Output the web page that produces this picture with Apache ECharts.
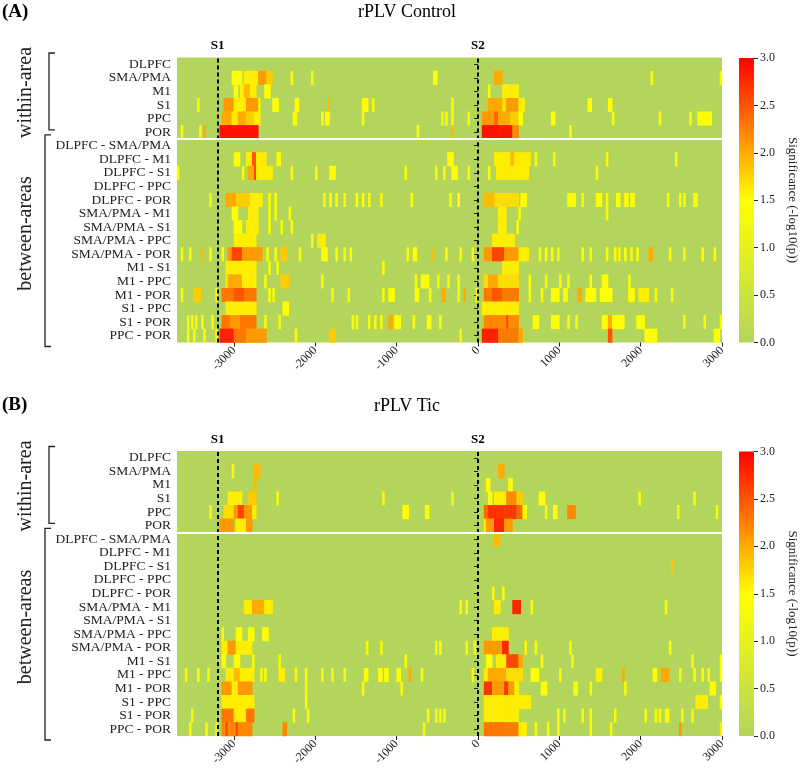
<!DOCTYPE html>
<html>
<head>
<meta charset="utf-8">
<script src="https://cdn.jsdelivr.net/npm/echarts@6/dist/echarts.min.js"></script>
<style>
  html, body { margin: 0; padding: 0; background: #fff; }
  #chart { width: 800px; height: 772px; }
</style>
</head>
<body>
<div id="chart"></div>
<script>
  // rows, top to bottom
  const areaLabels = [
    'DLPFC', 'SMA/PMA', 'M1', 'S1', 'PPC', 'POR',
    'DLPFC - SMA/PMA', 'DLPFC - M1', 'DLPFC - S1', 'DLPFC - PPC', 'DLPFC - POR',
    'SMA/PMA - M1', 'SMA/PMA - S1', 'SMA/PMA - PPC', 'SMA/PMA - POR',
    'M1 - S1', 'M1 - PPC', 'M1 - POR', 'S1 - PPC', 'S1 - POR', 'PPC - POR'
  ]
  const withinCount = 6
  const timeStart = -3700
  const timeEnd = 3000
  const binMs = 25
  const timeTicks = [-3000, -2000, -1000, 0, 1000, 2000, 3000]
  const eventTimes = [-3200, 0]
  const eventNames = ['S1', 'S2']

  // significant stretches per row: [from ms, to ms, -log10(p)]
  const controlRuns = [
    [],
    [[-3040,-2920,1.5],[-2880,-2720,1.6],[-2720,-2620,2.1],[-2620,-2540,1.8],[-2310,-2285,1.4],[-2055,-2030,1.4],[-560,-520,1.5],[190,280,2.0],[2120,2145,1.4],[2975,3000,1.4]],
    [[-3000,-2960,1.5],[-2930,-2880,1.6],[-2880,-2800,1.9],[-2800,-2740,1.6],[-2640,-2560,1.5],[110,135,1.4],[280,500,1.6]],
    [[-3450,-3425,1.4],[-3130,-3000,2.1],[-3000,-2860,1.6],[-2860,-2720,2.1],[-2720,-2680,1.6],[-2540,-2470,1.5],[-2260,-2220,1.5],[-1870,-1845,1.9],[-1440,-1360,1.5],[-1310,-1285,1.4],[-330,-305,1.5],[110,280,2.0],[280,340,1.7],[340,490,2.1],[490,570,1.6],[1330,1380,1.5],[1590,1635,1.5]],
    [[-3170,-3030,2.0],[-3030,-2950,1.6],[-2950,-2870,2.0],[-2870,-2770,1.8],[-2770,-2680,1.6],[-2290,-2265,1.4],[-2250,-2225,1.4],[-1930,-1905,1.5],[-1880,-1840,1.5],[-1440,-1415,1.4],[-455,-430,1.4],[-415,-390,1.4],[-330,-305,1.4],[-130,-105,1.4],[40,200,2.1],[200,250,2.4],[250,400,2.0],[400,490,1.8],[490,530,1.5],[880,940,1.5],[1635,1660,1.4],[2210,2235,1.4],[2580,2605,1.4],[2680,2870,1.5]],
    [[-3655,-3630,1.4],[-3445,-3420,1.4],[-3385,-3360,2.0],[-3190,-2700,2.9],[-750,-725,1.4],[-340,-315,1.9],[30,410,2.9],[410,490,2.2],[1120,1145,1.4]],
    [],
    [[-3000,-2930,1.5],[-2855,-2790,1.6],[-2790,-2745,2.5],[-2745,-2600,1.6],[-2485,-2430,1.5],[-375,-315,1.5],[200,380,1.6],[380,450,1.9],[450,630,1.6],[690,715,1.5],[915,940,1.4],[1575,1600,1.4],[2415,2440,1.4]],
    [[-3700,-3675,1.4],[-2915,-2890,1.4],[-2830,-2755,2.0],[-2755,-2735,2.6],[-2735,-2545,1.6],[-2300,-2275,1.4],[-2015,-1990,1.4],[-1830,-1770,1.5],[-905,-880,1.4],[-540,-515,1.4],[-425,-400,1.4],[-330,-250,1.5],[-130,-105,1.4],[120,145,1.4],[220,610,1.6],[1430,1455,1.4]],
    [],
    [[-3310,-3285,1.3],[-3110,-2990,2.0],[-2990,-2810,1.8],[-2810,-2650,1.6],[-2590,-2565,1.5],[-2500,-2475,1.5],[-1910,-1885,1.4],[-1830,-1805,1.5],[-1770,-1725,1.5],[-1665,-1640,1.5],[-1500,-1475,1.5],[-1440,-1415,1.5],[-1360,-1335,1.4],[-1215,-1190,1.4],[-845,-805,1.5],[-720,-700,1.4],[-355,-330,1.5],[-270,-230,1.5],[75,200,1.9],[200,490,1.7],[510,590,1.5],[1100,1185,1.5],[1265,1290,1.4],[1430,1515,1.5],[1555,1580,1.4],[1700,1740,1.5],[1780,1830,1.5],[1860,1920,1.5],[2310,2335,1.4],[2455,2480,1.4],[2515,2540,1.4],[2640,2700,1.5]],
    [[-3040,-2955,1.5],[-2835,-2710,1.6],[-2590,-2565,1.4],[-2500,-2475,1.4],[-2340,-2315,1.4],[240,345,1.6],[490,515,1.4],[1555,1580,1.3]],
    [[-3000,-2920,1.5],[-2855,-2710,1.6],[-2590,-2565,1.4],[-2425,-2400,1.4],[-2310,-2285,1.4],[240,345,1.6],[460,500,1.5]],
    [[-3015,-2730,1.6],[-2055,-2030,1.4],[-1980,-1880,1.6],[160,450,1.6]],
    [[-3655,-3630,1.4],[-3570,-3545,1.4],[-3405,-3380,1.9],[-3305,-3280,1.4],[-3155,-3130,1.5],[-3080,-3040,2.1],[-3040,-2915,2.6],[-2915,-2670,2.1],[-2610,-2585,1.5],[-2500,-2475,1.5],[-2445,-2350,1.8],[-2200,-2175,1.4],[-1930,-1870,1.5],[-1770,-1745,1.4],[-1665,-1640,1.4],[-1585,-1560,1.4],[-885,-860,1.4],[-805,-765,1.5],[-580,-555,1.9],[-420,-380,1.5],[-230,-205,1.4],[-85,-60,1.4],[75,160,2.1],[160,305,2.6],[305,490,2.1],[490,610,1.6],[735,760,1.4],[815,840,1.5],[880,905,1.5],[955,980,1.4],[1265,1290,1.5],[1370,1395,1.4],[1555,1580,1.4],[1655,1680,1.5],[1720,1745,1.4],[1780,1805,1.5],[1860,1885,1.4],[1945,1970,1.4],[2085,2135,2.0],[2335,2360,1.4],[2520,2545,1.4],[2745,2770,1.5],[2880,2905,1.5]],
    [[-3110,-2730,1.6],[-2590,-2565,1.4],[-2485,-2460,1.4],[-1190,-1165,1.4],[285,490,1.6]],
    [[-3110,-3080,1.6],[-3080,-2915,2.0],[-2915,-2730,1.6],[-2630,-2605,1.4],[-2445,-2335,1.8],[-1930,-1905,1.5],[-785,-760,1.4],[-720,-620,1.5],[-515,-490,1.4],[-375,-350,1.4],[-270,-245,1.4],[75,120,1.7],[120,240,2.0],[240,490,1.7],[610,635,1.5],[815,840,1.4],[1000,1025,1.4],[1100,1125,1.4],[1370,1395,1.5],[1515,1595,1.5],[1840,1865,1.4]],
    [[-3655,-3630,1.4],[-3510,-3405,1.8],[-3245,-3220,1.4],[-3155,-3000,2.3],[-3000,-2880,2.5],[-2880,-2730,2.3],[-2590,-2565,1.5],[-2535,-2510,1.4],[-1810,-1785,1.4],[-1605,-1580,1.4],[-1175,-1150,1.4],[-1110,-1030,1.5],[-785,-740,1.5],[-600,-575,1.4],[-455,-415,2.0],[-250,-225,1.4],[-190,-150,2.0],[-25,0,1.4],[75,160,2.3],[160,300,2.5],[300,490,2.3],[610,635,1.4],[775,800,1.4],[900,980,1.5],[1040,1100,1.5],[1225,1265,2.0],[1310,1430,1.5],[1490,1635,1.5],[1840,1920,1.5],[1965,2085,1.6],[2170,2195,1.4],[2375,2400,1.4]],
    [[-3120,-2730,1.6],[-2405,-2340,1.5],[50,490,1.6]],
    [[-3590,-3565,1.4],[-3545,-3520,1.4],[-3490,-3465,1.4],[-3410,-3385,1.4],[-3285,-3260,1.4],[-3155,-3050,2.3],[-3050,-2940,2.1],[-2940,-2730,2.3],[-2630,-2605,1.4],[-2465,-2440,1.4],[-1560,-1535,1.4],[-1500,-1475,1.4],[-1360,-1335,1.4],[-1290,-1265,1.4],[-1220,-1195,1.4],[-1115,-1070,2.0],[-1030,-950,1.5],[-805,-780,1.4],[-640,-580,1.5],[-495,-455,1.5],[75,340,2.2],[340,370,2.6],[370,490,2.2],[670,750,1.5],[900,1000,1.5],[1080,1105,1.4],[1185,1210,1.4],[1515,1600,1.5],[1600,1640,2.0],[1640,1800,1.5],[1945,2045,1.5],[2520,2545,1.4],[2765,2790,1.4],[2965,2990,1.4]],
    [[-3590,-3565,1.4],[-3510,-3485,1.4],[-3385,-3360,1.4],[-3245,-3220,1.4],[-3175,-3000,2.8],[-3000,-2860,2.3],[-2860,-2600,2.1],[-2255,-2230,1.4],[-1830,-1770,1.8],[-230,-205,1.4],[30,250,2.8],[250,490,2.3],[490,530,2.0],[1590,1640,2.5],[2040,2200,1.5],[2900,2975,1.5]]
  ]

  const ticRuns = [
    [],
    [[-3045,-3020,1.5],[-2770,-2680,1.9],[230,315,2.0]],
    [[-2750,-2725,1.9],[90,150,1.5],[370,415,1.5]],
    [[-3090,-2915,1.6],[-2840,-2730,1.8],[-2485,-2460,1.4],[-1180,-1155,1.3],[-345,-320,1.3],[120,160,1.5],[200,345,1.6],[345,470,2.2],[470,550,1.8],[735,810,1.5],[1965,1990,1.4],[2630,2655,1.4]],
    [[-3315,-3290,1.4],[-3130,-3020,1.7],[-3020,-2950,2.1],[-2950,-2895,2.6],[-2895,-2790,2.1],[-2790,-2730,1.6],[-940,-865,1.5],[-670,-600,1.5],[55,120,2.4],[120,470,2.7],[470,530,2.4],[530,590,1.5],[815,840,1.4],[920,970,1.5],[1100,1185,2.2],[2435,2460,1.4],[2925,2950,1.4]],
    [[-3190,-3020,2.1],[-2980,-2860,1.6],[-2860,-2790,2.1],[55,100,1.6],[100,185,2.1],[185,305,2.8],[305,425,2.1]],
    [[200,260,1.9]],
    [],
    [[2370,2395,1.8]],
    [],
    [[160,185,1.4],[285,310,1.5]],
    [[-2875,-2795,1.6],[-2795,-2630,2.0],[-2630,-2545,1.6],[-230,-205,1.5],[-150,-125,1.5],[200,260,1.6],[425,510,2.8],[650,675,1.4],[2290,2315,1.4]],
    [],
    [[-3160,-3135,1.4],[-2995,-2915,1.5],[-2835,-2770,1.5],[-2650,-2590,1.5],[160,365,1.6]],
    [[-3160,-3080,1.6],[-3080,-2975,2.1],[-2975,-2790,1.6],[-1380,-1355,1.4],[-1215,-1190,1.4],[-540,-515,1.4],[-495,-470,1.4],[-170,-145,1.4],[-65,-40,1.4],[75,300,2.1],[300,365,2.8],[570,595,1.4],[690,715,1.4],[1120,1145,1.4],[2335,2360,1.5]],
    [[-3160,-3120,1.5],[-3000,-2935,1.5],[-2795,-2770,1.4],[-2465,-2440,1.4],[-905,-880,1.4],[100,160,1.5],[220,345,1.6],[345,490,2.6],[490,550,2.0],[775,800,1.4],[1145,1170,1.4],[2620,2645,1.4],[2975,3000,1.5]],
    [[-3615,-3590,1.4],[-3450,-3425,1.4],[-3325,-3300,1.4],[-3120,-3000,1.6],[-3000,-2930,1.9],[-2930,-2750,1.6],[-2690,-2665,1.4],[-2630,-2605,1.4],[-2465,-2380,1.6],[-2260,-2235,1.4],[-2135,-2110,1.4],[-1930,-1905,1.4],[-1810,-1785,1.4],[-1665,-1640,1.4],[-1400,-1355,1.5],[-1235,-1190,1.5],[-1150,-1110,1.5],[-1010,-965,1.5],[-865,-825,2.0],[-700,-675,1.4],[-85,-60,1.4],[75,120,1.6],[120,345,2.0],[345,550,1.7],[650,735,1.5],[1000,1025,1.4],[1430,1515,1.6],[1760,1800,2.0],[2150,2190,1.5],[2250,2335,2.0],[2455,2480,1.4],[2640,2665,1.4],[2745,2770,1.4],[2825,2850,1.4],[2975,3000,1.5]],
    [[-3160,-3035,2.1],[-3035,-2950,1.6],[-2950,-2790,2.1],[-2135,-2110,1.4],[-1440,-1415,1.4],[-970,-945,1.4],[75,160,2.7],[160,325,2.1],[325,365,2.7],[365,450,2.1],[450,490,1.6],[775,835,1.5],[1165,1225,1.5],[1365,1390,1.4],[1800,1825,1.4],[2845,2905,1.5]],
    [[-3160,-2765,1.6],[-2135,-2110,1.4],[55,650,1.6],[2660,2805,1.6],[2965,2990,1.5]],
    [[-3530,-3505,1.4],[-3155,-3010,2.3],[-3010,-2870,1.6],[-2870,-2765,2.3],[-2280,-2255,1.4],[-2115,-2090,1.4],[-640,-615,1.4],[-540,-515,1.4],[-495,-470,1.4],[-435,-410,1.4],[75,490,1.6],[960,985,1.4],[1045,1070,1.4],[1270,1295,1.4],[1370,1395,1.4],[1665,1690,1.4],[2030,2055,1.4],[2170,2195,1.4],[2210,2235,1.4],[2280,2335,1.4],[2495,2520,1.4],[2615,2640,1.4]],
    [[-3570,-3545,1.4],[-3360,-3335,1.4],[-3245,-3220,1.4],[-3155,-3100,2.2],[-3100,-3075,2.6],[-3075,-2990,2.2],[-2990,-2965,2.6],[-2965,-2790,2.2],[-2410,-2355,2.2],[-690,-665,1.4],[75,490,2.3],[490,590,1.6],[690,715,1.4],[850,875,1.4],[970,995,1.4],[1360,1385,1.4],[1610,1635,1.4],[2460,2485,2.1],[2975,3000,1.6]]
  ]

  const nRows = areaLabels.length
  const nBins = (timeEnd - timeStart) / binMs
  const bins = []
  for (let k = 0; k < nBins; k++) bins.push(String(timeStart + k * binMs))

  // only significant bins become cells, the rest is the grid background (value 0)
  function buildCells(runs) {
    const cells = []
    runs.forEach((row, r) => {
      const vals = new Array(nBins).fill(0)
      row.forEach(([from, to, v]) => {
        for (let k = 0; k < nBins; k++) {
          const t = timeStart + k * binMs
          if (t >= from && t < to) vals[k] = v
        }
      })
      const y = nRows - 1 - r
      vals.forEach((v, k) => { if (v > 0) cells.push([k, y, v]) })
    })
    return cells
  }

  const serif = 'Liberation Serif'
  const green = '#b3d55b'
  const panelTops = [57.5, 451]
  const panelHeight = 285
  const plotLeft = 177
  const plotWidth = 545

  const grids = []
  const xAxes = []
  const yAxes = []
  const series = []

  panelTops.forEach((top) => {
    grids.push({ left: plotLeft, top: top, width: plotWidth, height: panelHeight, show: true, backgroundColor: green, borderWidth: 0 })
  })
  panelTops.forEach((top) => {
    grids.push({ left: 739, top: top + 0.5, width: 15, height: panelHeight - 0.5 })
  })

  panelTops.forEach((top, p) => {
    xAxes.push({ type: 'category', gridIndex: p, data: bins, show: false })
    xAxes.push({
      type: 'value', gridIndex: p, min: timeStart, max: timeEnd, position: 'bottom',
      axisLine: { show: false },
      splitLine: { show: false },
      axisTick: { show: true, length: 4, customValues: timeTicks, lineStyle: { color: '#222' } },
      axisLabel: { customValues: timeTicks, rotate: 45, fontSize: 12, fontFamily: serif, color: '#222', margin: 6, formatter: v => String(v) }
    })
    yAxes.push({
      type: 'category', gridIndex: p, data: areaLabels.slice().reverse(),
      axisLine: { show: false },
      axisTick: { show: true, alignWithLabel: true, interval: 0, length: 4, lineStyle: { color: '#222' } },
      axisLabel: { interval: 0, fontSize: 13.5, fontFamily: serif, color: '#222', margin: 6 },
      splitLine: { show: false }
    })
    yAxes.push({ type: 'value', gridIndex: p, min: 0, max: nRows, show: false })
  })

  panelTops.forEach((top, p) => {
    xAxes.push({ type: 'category', gridIndex: 2 + p, data: ['cb'], show: false })
    yAxes.push({
      type: 'value', gridIndex: 2 + p, min: 0, max: 3, interval: 0.5, position: 'right',
      axisLine: { show: false },
      splitLine: { show: false },
      axisTick: { show: true, length: 4, lineStyle: { color: '#222' } },
      axisLabel: { fontSize: 12, fontFamily: serif, color: '#222', margin: 6, formatter: v => v.toFixed(1) }
    })
  })

  const allRuns = [controlRuns, ticRuns]
  allRuns.forEach((runs, p) => {
    series.push({
      type: 'heatmap', xAxisIndex: 2 * p, yAxisIndex: 2 * p,
      data: buildCells(runs), progressive: 0, silent: true,
      itemStyle: { borderWidth: 0 }
    })
    series.push({
      type: 'scatter', xAxisIndex: 2 * p + 1, yAxisIndex: 2 * p + 1, data: [], silent: true,
      markLine: {
        silent: true, symbol: 'none', animation: false,
        data: eventTimes.map((t, i) => ({
          xAxis: t, name: eventNames[i],
          lineStyle: { color: '#000', type: [4, 3], width: 2 },
          label: { show: true, position: 'end', formatter: eventNames[i], fontFamily: serif, fontWeight: 'bold', fontSize: 13, color: '#000', distance: 5 }
        })).concat([{
          yAxis: nRows - withinCount,
          lineStyle: { color: '#fff', type: 'solid', width: 2 },
          label: { show: false }
        }])
      }
    })
  })
  panelTops.forEach((top, p) => {
    series.push({
      type: 'bar', xAxisIndex: 4 + p, yAxisIndex: 4 + p, data: [3], barWidth: '100%', silent: true,
      itemStyle: {
        color: { type: 'linear', x: 0, y: 1, x2: 0, y2: 0,
          colorStops: [{ offset: 0, color: green }, { offset: 0.5, color: '#ffff00' }, { offset: 1, color: '#ff0000' }] }
      }
    })
  })

  // titles, brackets and group labels
  const titles = [['(A)', 'rPLV Control'], ['(B)', 'rPLV Tic']]
  const graphics = []
  panelTops.forEach((top, p) => {
    const rowH = panelHeight / nRows
    const split = top + withinCount * rowH
    const bottom = top + panelHeight
    graphics.push({ type: 'text', x: 2, y: top - 45.5, style: { text: titles[p][0], font: 'bold 19px ' + serif, fill: '#000', textVerticalAlign: 'middle', verticalAlign: 'middle' } })
    graphics.push({ type: 'text', x: 407, y: top - 45, style: { text: titles[p][1], font: '18px ' + serif, fill: '#000', textAlign: 'center', align: 'center', textVerticalAlign: 'middle', verticalAlign: 'middle' } })
    graphics.push({ type: 'polyline', shape: { points: [[55, top - 4.5], [49, top - 4.5], [49, split - 9], [55, split - 9]] }, style: { stroke: '#222', lineWidth: 1.3, fill: null } })
    graphics.push({ type: 'polyline', shape: { points: [[51, split - 4], [45, split - 4], [45, bottom + 4], [51, bottom + 4]] }, style: { stroke: '#222', lineWidth: 1.3, fill: null } })
    graphics.push({ type: 'text', x: 26, y: top + 35, rotation: Math.PI / 2, style: { text: 'within-area', font: '20px ' + serif, fill: '#222', textAlign: 'center', align: 'center', textVerticalAlign: 'middle', verticalAlign: 'middle' } })
    graphics.push({ type: 'text', x: 26, y: top + 176, rotation: Math.PI / 2, style: { text: 'between-areas', font: '20px ' + serif, fill: '#222', textAlign: 'center', align: 'center', textVerticalAlign: 'middle', verticalAlign: 'middle' } })
    graphics.push({ type: 'text', x: 792, y: top + panelHeight / 2, rotation: -Math.PI / 2, style: { text: 'Significance (-log10(p))', font: '13px ' + serif, fill: '#222', textAlign: 'center', align: 'center', textVerticalAlign: 'middle', verticalAlign: 'middle' } })
  })

  const chart = echarts.init(document.getElementById('chart'))
  chart.setOption({
    animation: false,
    backgroundColor: '#fff',
    grid: grids,
    xAxis: xAxes,
    yAxis: yAxes,
    visualMap: {
      type: 'continuous', show: false, min: 0, max: 3, seriesIndex: [0, 2],
      inRange: { color: [green, '#ffff00', '#ff0000'] }
    },
    graphic: graphics,
    series: series
  })
</script>
</body>
</html>
